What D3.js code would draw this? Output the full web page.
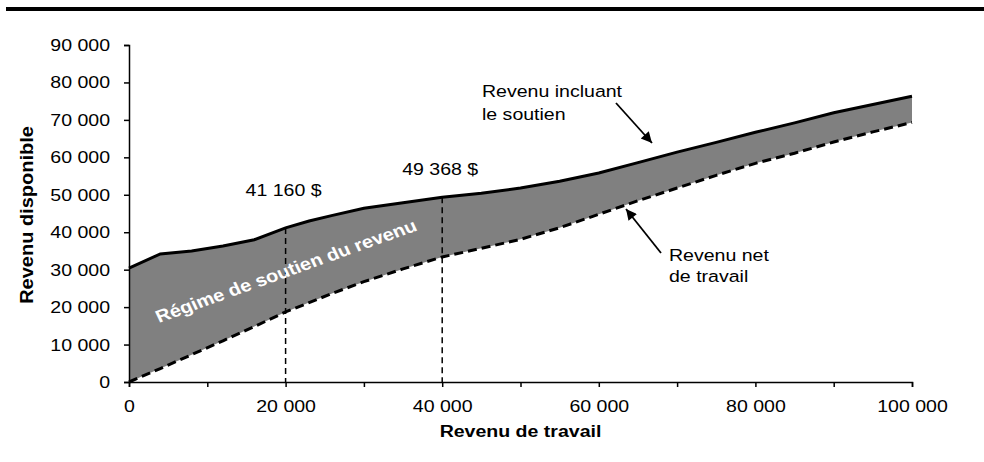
<!DOCTYPE html>
<html>
<head>
<meta charset="utf-8">
<script src="https://cdn.jsdelivr.net/npm/d3@7"></script>
<style>
  body { margin: 0; background: #fff; }
  svg { display: block; }
  text { font-family: Arial, "Liberation Sans", sans-serif; }
</style>
</head>
<body>
<div id="chart"></div>
<script>
// revenu de travail (axe x)
var revenuTravail = [0, 4000, 8000, 12000, 16000, 20000, 23000, 26000, 30000, 35000, 40000, 45000,
  50000, 55000, 60000, 65000, 70000, 75000, 80000, 85000, 90000, 95000, 100000];
// revenu incluant le soutien
var revenuSoutien = [30400, 34200, 35000, 36300, 38000, 41160, 43000, 44500, 46400, 47900, 49368, 50400,
  51800, 53600, 55800, 58600, 61400, 64000, 66700, 69200, 71900, 74100, 76300];
// revenu net de travail
var revenuNet = [0, 3600, 7300, 11000, 14800, 18700, 21200, 23700, 26800, 30200, 33400, 35700,
  38100, 41200, 44800, 48400, 51800, 55200, 58400, 61100, 64100, 66800, 69300];
var reperesX = [20000, 40000];
var reperesY = [41160, 49368];
var ticksX = [0, 10000, 20000, 30000, 40000, 50000, 60000, 70000, 80000, 90000, 100000];
var ticksY = [0, 10000, 20000, 30000, 40000, 50000, 60000, 70000, 80000, 90000];

var W = 984, H = 462;
var margin = {top: 45, left: 129, right: 72, bottom: 80};
var width = W - margin.left - margin.right,
    height = H - margin.top - margin.bottom;
var sx = 1.15; // texte un peu etire, comme l'original

var loc = d3.formatLocale({decimal: ",", thousands: " ", grouping: [3], currency: ["", " $"]});
var fmt = loc.format(",d");

var svg = d3.select("#chart").append("svg")
    .attr("width", W)
    .attr("height", H);

// barre noire du haut
svg.append("line")
    .attr("x1", 6).attr("x2", W)
    .attr("y1", 9).attr("y2", 9)
    .attr("stroke", "#000")
    .attr("stroke-width", 4);

var g = svg.append("g")
    .attr("transform", "translate(" + margin.left + "," + margin.top + ")");

var x = d3.scaleLinear().domain([0, 100000]).range([0, width]);
var y = d3.scaleLinear().domain([0, 90000]).range([height, 0]);

var data = revenuTravail.map(function(d, i) {
  return {x: d, haut: revenuSoutien[i], bas: revenuNet[i]};
});

// zone grise
g.append("path")
    .datum(data)
    .attr("fill", "#808080")
    .attr("d", d3.area()
      .x(function(d) { return x(d.x); })
      .y0(function(d) { return y(d.bas); })
      .y1(function(d) { return y(d.haut); }));

// lignes verticales pointillees
g.selectAll(".repere")
    .data(reperesX)
  .enter().append("line")
    .attr("class", "repere")
    .attr("x1", function(d) { return x(d); })
    .attr("x2", function(d) { return x(d); })
    .attr("y1", function(d, i) { return y(reperesY[i]); })
    .attr("y2", height)
    .attr("stroke", "#000")
    .attr("stroke-width", 1.5)
    .attr("stroke-dasharray", "6,4");

g.append("path")
    .datum(data)
    .attr("fill", "none")
    .attr("stroke", "#000")
    .attr("stroke-width", 3)
    .attr("stroke-dasharray", "9,5")
    .attr("d", d3.line().x(function(d) { return x(d.x); }).y(function(d) { return y(d.bas); }));

g.append("path")
    .datum(data)
    .attr("fill", "none")
    .attr("stroke", "#000")
    .attr("stroke-width", 3)
    .attr("d", d3.line().x(function(d) { return x(d.x); }).y(function(d) { return y(d.haut); }));

// axes
var axeX = g.append("g")
    .attr("transform", "translate(0," + height + ")")
    .call(d3.axisBottom(x).tickValues(ticksX).tickSizeOuter(0).tickSize(5)
      .tickFormat(function(d) { return d % 20000 === 0 ? fmt(d) : ""; }));
var axeY = g.append("g")
    .call(d3.axisLeft(y).tickValues(ticksY).tickSizeOuter(0).tickSize(5).tickFormat(fmt));

[axeX, axeY].forEach(function(a) {
  a.select(".domain").attr("stroke-width", 1.5);
  a.selectAll(".tick line").attr("stroke-width", 1.5);
  a.selectAll("text").attr("font-size", 17).attr("font-family", null).attr("fill", "#000");
});
axeX.selectAll("text").attr("y", 18).attr("transform", "scale(" + sx + ",1)");
axeY.selectAll("text").attr("x", -19 / sx).attr("transform", "scale(" + sx + ",1)");

function texte(px, py, str, opts) {
  opts = opts || {};
  var s = opts.sx || sx;
  return svg.append("text")
    .attr("transform", "translate(" + px + "," + py + ") scale(" + s + ",1)" + (opts.rot ? " rotate(" + opts.rot + ")" : ""))
    .attr("text-anchor", opts.anchor || "start")
    .attr("font-size", opts.size || 17)
    .attr("font-weight", opts.bold ? "bold" : null)
    .attr("fill", opts.fill || "#000")
    .text(str);
}

// titres des axes
texte(margin.left + width / 2, 437, "Revenu de travail", {anchor: "middle", bold: true});
texte(33, 215, "Revenu disponible", {anchor: "middle", bold: true, rot: -90, size: 20, sx: 0.9});

// valeurs des reperes
reperesX.forEach(function(d, i) {
  texte(margin.left + x(d) - 2, i === 0 ? 196 : 175, fmt(reperesY[i]) + " $", {anchor: "middle"});
});

// texte de la zone
texte(159, 323, "Régime de soutien du revenu", {bold: true, fill: "#fff", rot: -22.4, size: 17.5});

// etiquettes et fleches
svg.append("defs").append("marker")
    .attr("id", "fleche")
    .attr("viewBox", "0 0 10 10")
    .attr("refX", 10).attr("refY", 5)
    .attr("markerWidth", 7.5).attr("markerHeight", 6)
    .attr("markerUnits", "strokeWidth")
    .attr("orient", "auto")
  .append("path")
    .attr("d", "M0,0 L10,5 L0,10 z")
    .attr("fill", "#000");

texte(482, 97, "Revenu incluant");
texte(482, 120, "le soutien");
svg.append("line")
    .attr("x1", 616).attr("y1", 103).attr("x2", 652).attr("y2", 143)
    .attr("stroke", "#000").attr("stroke-width", 1.8)
    .attr("marker-end", "url(#fleche)");

texte(669, 261, "Revenu net");
texte(669, 282, "de travail");
svg.append("line")
    .attr("x1", 661).attr("y1", 253).attr("x2", 626).attr("y2", 209)
    .attr("stroke", "#000").attr("stroke-width", 1.8)
    .attr("marker-end", "url(#fleche)");
</script>
</body>
</html>
